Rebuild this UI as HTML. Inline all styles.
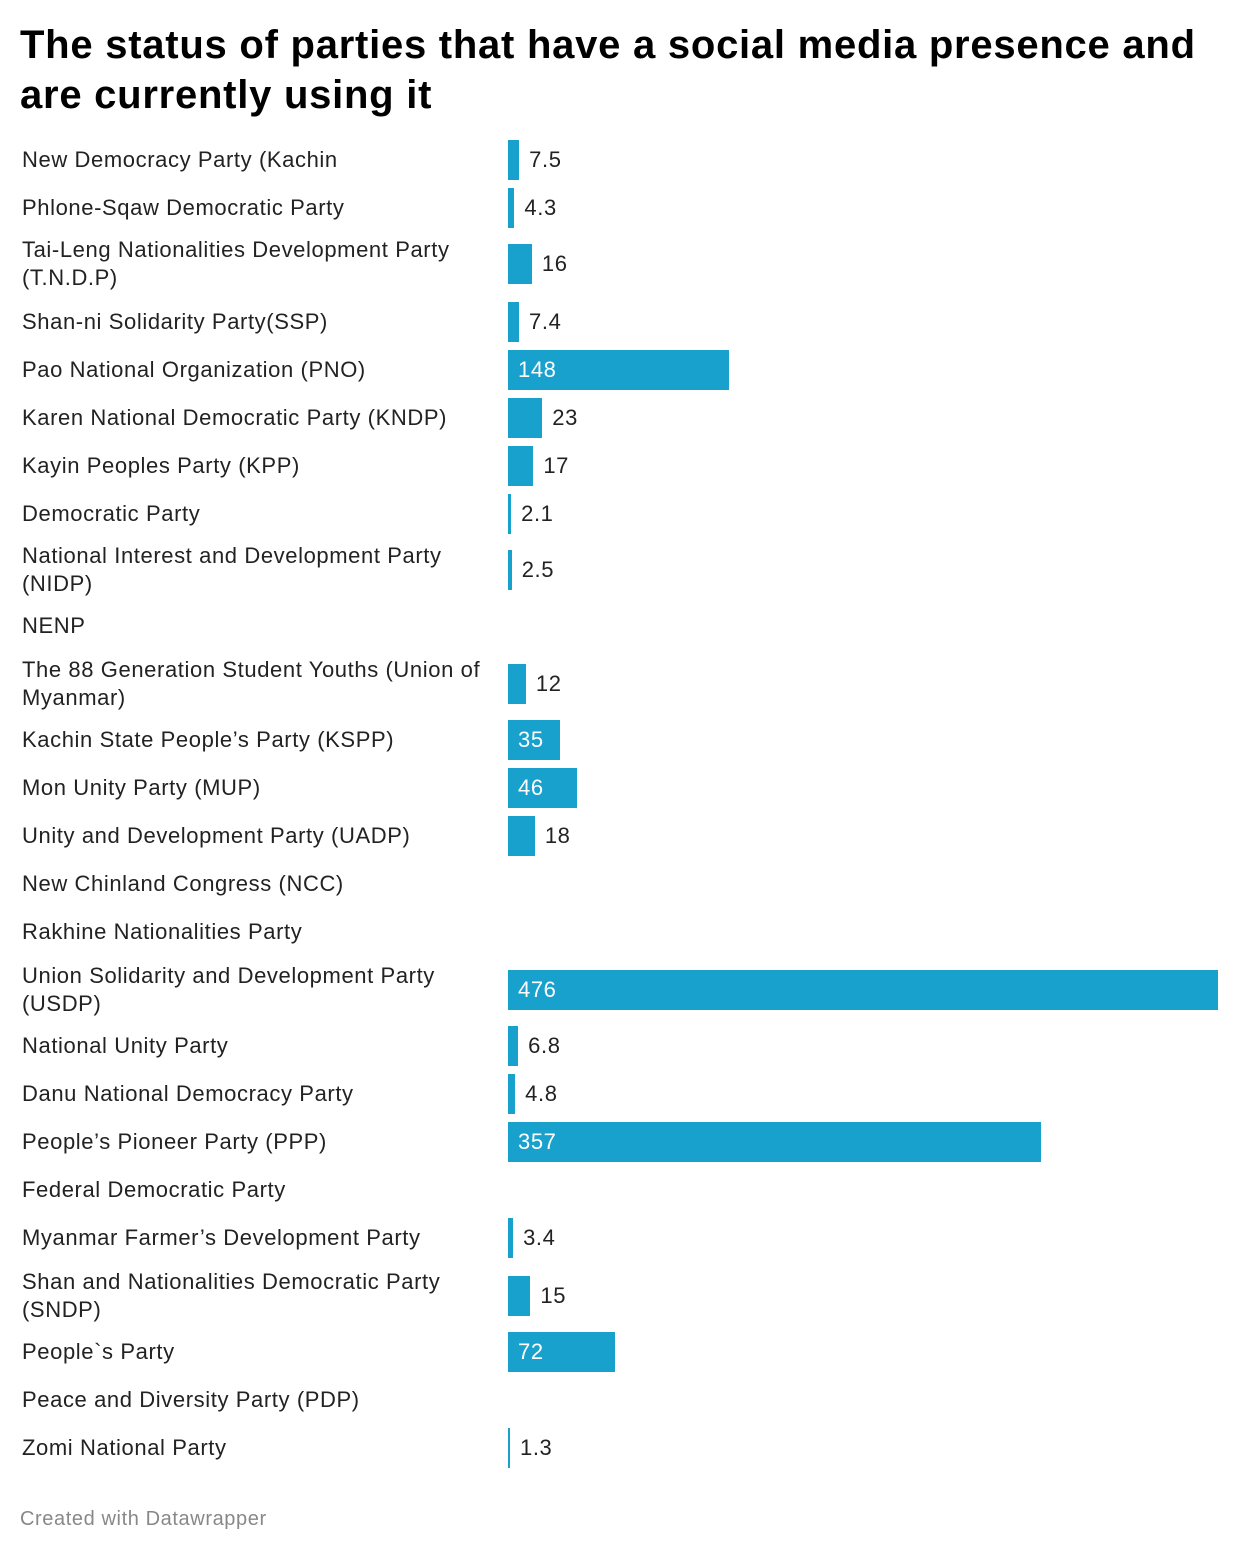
<!DOCTYPE html>
<html><head><meta charset="utf-8"><style>
body{margin:0;width:1240px;height:1554px;background:#fff;font-family:"Liberation Sans",Arial,sans-serif;color:#222;position:relative;overflow:hidden}
.t{position:absolute;left:20px;top:20px;font-size:40px;font-weight:bold;line-height:50px;color:#000;letter-spacing:0.75px;width:1215px;white-space:nowrap}
.l{position:absolute;left:22px;font-size:22px;letter-spacing:0.6px;line-height:28px;color:#222;width:480px}
.b{position:absolute;left:508px;height:40px;background:#18a1cd}
.v{position:absolute;font-size:22px;letter-spacing:0.6px;line-height:28px;color:#222}
.w{color:#fff}
.f{position:absolute;left:20px;top:1508px;font-size:20px;letter-spacing:0.6px;color:#888}
</style></head><body>
<div class="t">The status of parties that have a social media presence and<br>are currently using it</div>
<div id="c"></div>
<div class="f">Created with Datawrapper</div>
<script>
var d=[
["New Democracy Party (Kachin",160,7.5],
["Phlone-Sqaw Democratic Party",208,4.3],
["Tai-Leng Nationalities Development Party<br>(T.N.D.P)",264,16],
["Shan-ni Solidarity Party(SSP)",322,7.4],
["Pao National Organization (PNO)",370,148],
["Karen National Democratic Party (KNDP)",418,23],
["Kayin Peoples Party (KPP)",466,17],
["Democratic Party",514,2.1],
["National Interest and Development Party<br>(NIDP)",570,2.5],
["NENP",626,null],
["The 88 Generation Student Youths (Union of<br>Myanmar)",684,12],
["Kachin State People’s Party (KSPP)",740,35],
["Mon Unity Party (MUP)",788,46],
["Unity and Development Party (UADP)",836,18],
["New Chinland Congress (NCC)",884,null],
["Rakhine Nationalities Party",932,null],
["Union Solidarity and Development Party<br>(USDP)",990,476],
["National Unity Party",1046,6.8],
["Danu National Democracy Party",1094,4.8],
["People’s Pioneer Party (PPP)",1142,357],
["Federal Democratic Party",1190,null],
["Myanmar Farmer’s Development Party",1238,3.4],
["Shan and Nationalities Democratic Party<br>(SNDP)",1296,15],
["People`s Party",1352,72],
["Peace and Diversity Party (PDP)",1400,null],
["Zomi National Party",1448,1.3]];
var h="",k=710/476;
d.forEach(function(r){
 var two=r[0].indexOf("<br>")>=0;
 h+='<div class="l" style="top:'+(r[1]-(two?28:14))+'px">'+r[0]+'</div>';
 if(r[2]!==null){
  var w=Math.max(2,r[2]*k);
  h+='<div class="b" style="top:'+(r[1]-20)+'px;width:'+w+'px"></div>';
  if(r[2]>=35) h+='<div class="v w" style="left:518px;top:'+(r[1]-14)+'px">'+r[2]+'</div>';
  else h+='<div class="v" style="left:'+(508+w+10)+'px;top:'+(r[1]-14)+'px">'+r[2]+'</div>';
 }
});
document.getElementById("c").innerHTML=h;
</script>
</body></html>
